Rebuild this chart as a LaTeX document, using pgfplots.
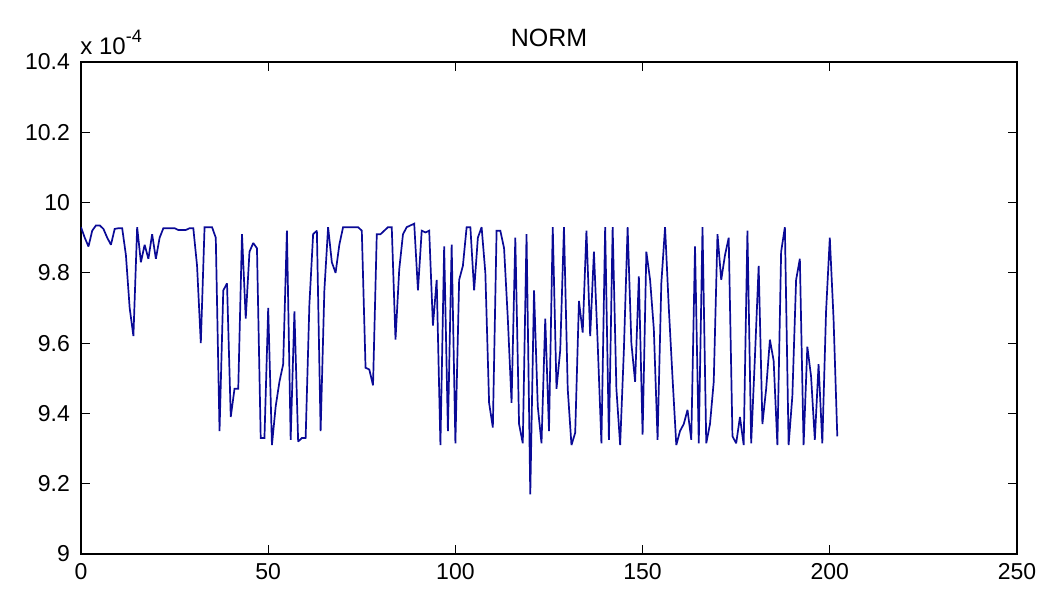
\documentclass[border=0pt]{standalone}
\usepackage{pgfplots}
\pgfplotsset{compat=1.18}
\usepackage{pgfplotstable}
\usetikzlibrary{calc}
\usepackage{fontspec}
\setmainfont{Liberation Sans}
\definecolor{normblue}{RGB}{10,10,150}
\pgfplotstableread{
i v
0 9.93
1 9.90
2 9.875
3 9.92
4 9.935
5 9.935
6 9.925
7 9.90
8 9.88
9 9.925
10 9.927
11 9.927
12 9.85
13 9.70
14 9.62
15 9.93
16 9.83
17 9.88
18 9.84
19 9.91
20 9.84
21 9.90
22 9.927
23 9.927
24 9.927
25 9.927
26 9.922
27 9.922
28 9.922
29 9.927
30 9.927
31 9.82
32 9.60
33 9.93
34 9.93
35 9.93
36 9.90
37 9.35
38 9.75
39 9.77
40 9.39
41 9.47
42 9.47
43 9.91
44 9.67
45 9.86
46 9.885
47 9.87
48 9.33
49 9.33
50 9.70
51 9.31
52 9.42
53 9.49
54 9.54
55 9.92
56 9.325
57 9.69
58 9.32
59 9.33
60 9.33
61 9.71
62 9.91
63 9.92
64 9.35
65 9.75
66 9.93
67 9.83
68 9.80
69 9.88
70 9.93
71 9.93
72 9.93
73 9.93
74 9.93
75 9.92
76 9.53
77 9.525
78 9.48
79 9.91
80 9.91
81 9.92
82 9.93
83 9.93
84 9.61
85 9.81
86 9.91
87 9.93
88 9.935
89 9.94
90 9.75
91 9.92
92 9.915
93 9.92
94 9.65
95 9.78
96 9.31
97 9.875
98 9.35
99 9.88
100 9.315
101 9.78
102 9.82
103 9.93
104 9.93
105 9.75
106 9.90
107 9.93
108 9.80
109 9.43
110 9.36
111 9.92
112 9.92
113 9.87
114 9.67
115 9.43
116 9.90
117 9.37
118 9.315
119 9.91
120 9.17
121 9.75
122 9.42
123 9.315
124 9.67
125 9.35
126 9.93
127 9.47
128 9.58
129 9.93
130 9.47
131 9.31
132 9.345
133 9.72
134 9.63
135 9.92
136 9.62
137 9.86
138 9.60
139 9.315
140 9.93
141 9.325
142 9.93
143 9.47
144 9.31
145 9.58
146 9.93
147 9.60
148 9.49
149 9.79
150 9.34
151 9.86
152 9.78
153 9.64
154 9.325
155 9.77
156 9.93
157 9.70
158 9.50
159 9.31
160 9.35
161 9.37
162 9.41
163 9.325
164 9.875
165 9.315
166 9.93
167 9.315
168 9.37
169 9.49
170 9.91
171 9.78
172 9.85
173 9.90
174 9.335
175 9.315
176 9.39
177 9.31
178 9.92
179 9.315
180 9.56
181 9.82
182 9.37
183 9.47
184 9.61
185 9.55
186 9.31
187 9.86
188 9.93
189 9.31
190 9.45
191 9.78
192 9.84
193 9.31
194 9.59
195 9.505
196 9.325
197 9.54
198 9.315
199 9.69
200 9.90
201 9.67
202 9.335
}\normdata
\begin{document}
\begin{tikzpicture}
\begin{axis}[
  name=main,
  at={(0,0)}, anchor=south west,
  scale only axis,
  width=468pt, height=246pt,
  xmin=0, xmax=250, ymin=9, ymax=10.4,
  xtick={0,50,100,150,200,250},
  xticklabels={0,50,100,150,200,250},
  ytick={9,9.2,9.4,9.6,9.8,10,10.2,10.4},
  yticklabels={9,9.2,9.4,9.6,9.8,10,10.2,10.4},
  tick align=inside,
  major tick length=4.5pt,
  tick style={black, line width=0.6pt},
  axis line style={black, line width=0.7pt},
  ticklabel style={font=\fontsize{11.5}{13}\selectfont},
  yticklabel style={xshift=-2pt},
  xticklabel style={yshift=-1pt},
  clip mode=individual,
]
\addplot[normblue, line width=0.85pt, mark=none, line join=miter, miter limit=2] table[x=i, y=v] {\normdata};
\end{axis}
\node[anchor=center, font=\fontsize{12.5}{14}\selectfont] at ($(main.north west)!0.5!(main.north east)+(0,12pt)$) {NORM};
\node[anchor=west, inner sep=0pt, font=\fontsize{12}{14}\selectfont] at ($(main.north west)+(-0.5pt,10pt)$) {x 10\raisebox{6pt}{\fontsize{9}{10}\selectfont -4}};
\pgfresetboundingbox
\path[use as bounding box] (-40.5pt,-20pt) rectangle (481.5pt,277pt);
\end{tikzpicture}
\end{document}
